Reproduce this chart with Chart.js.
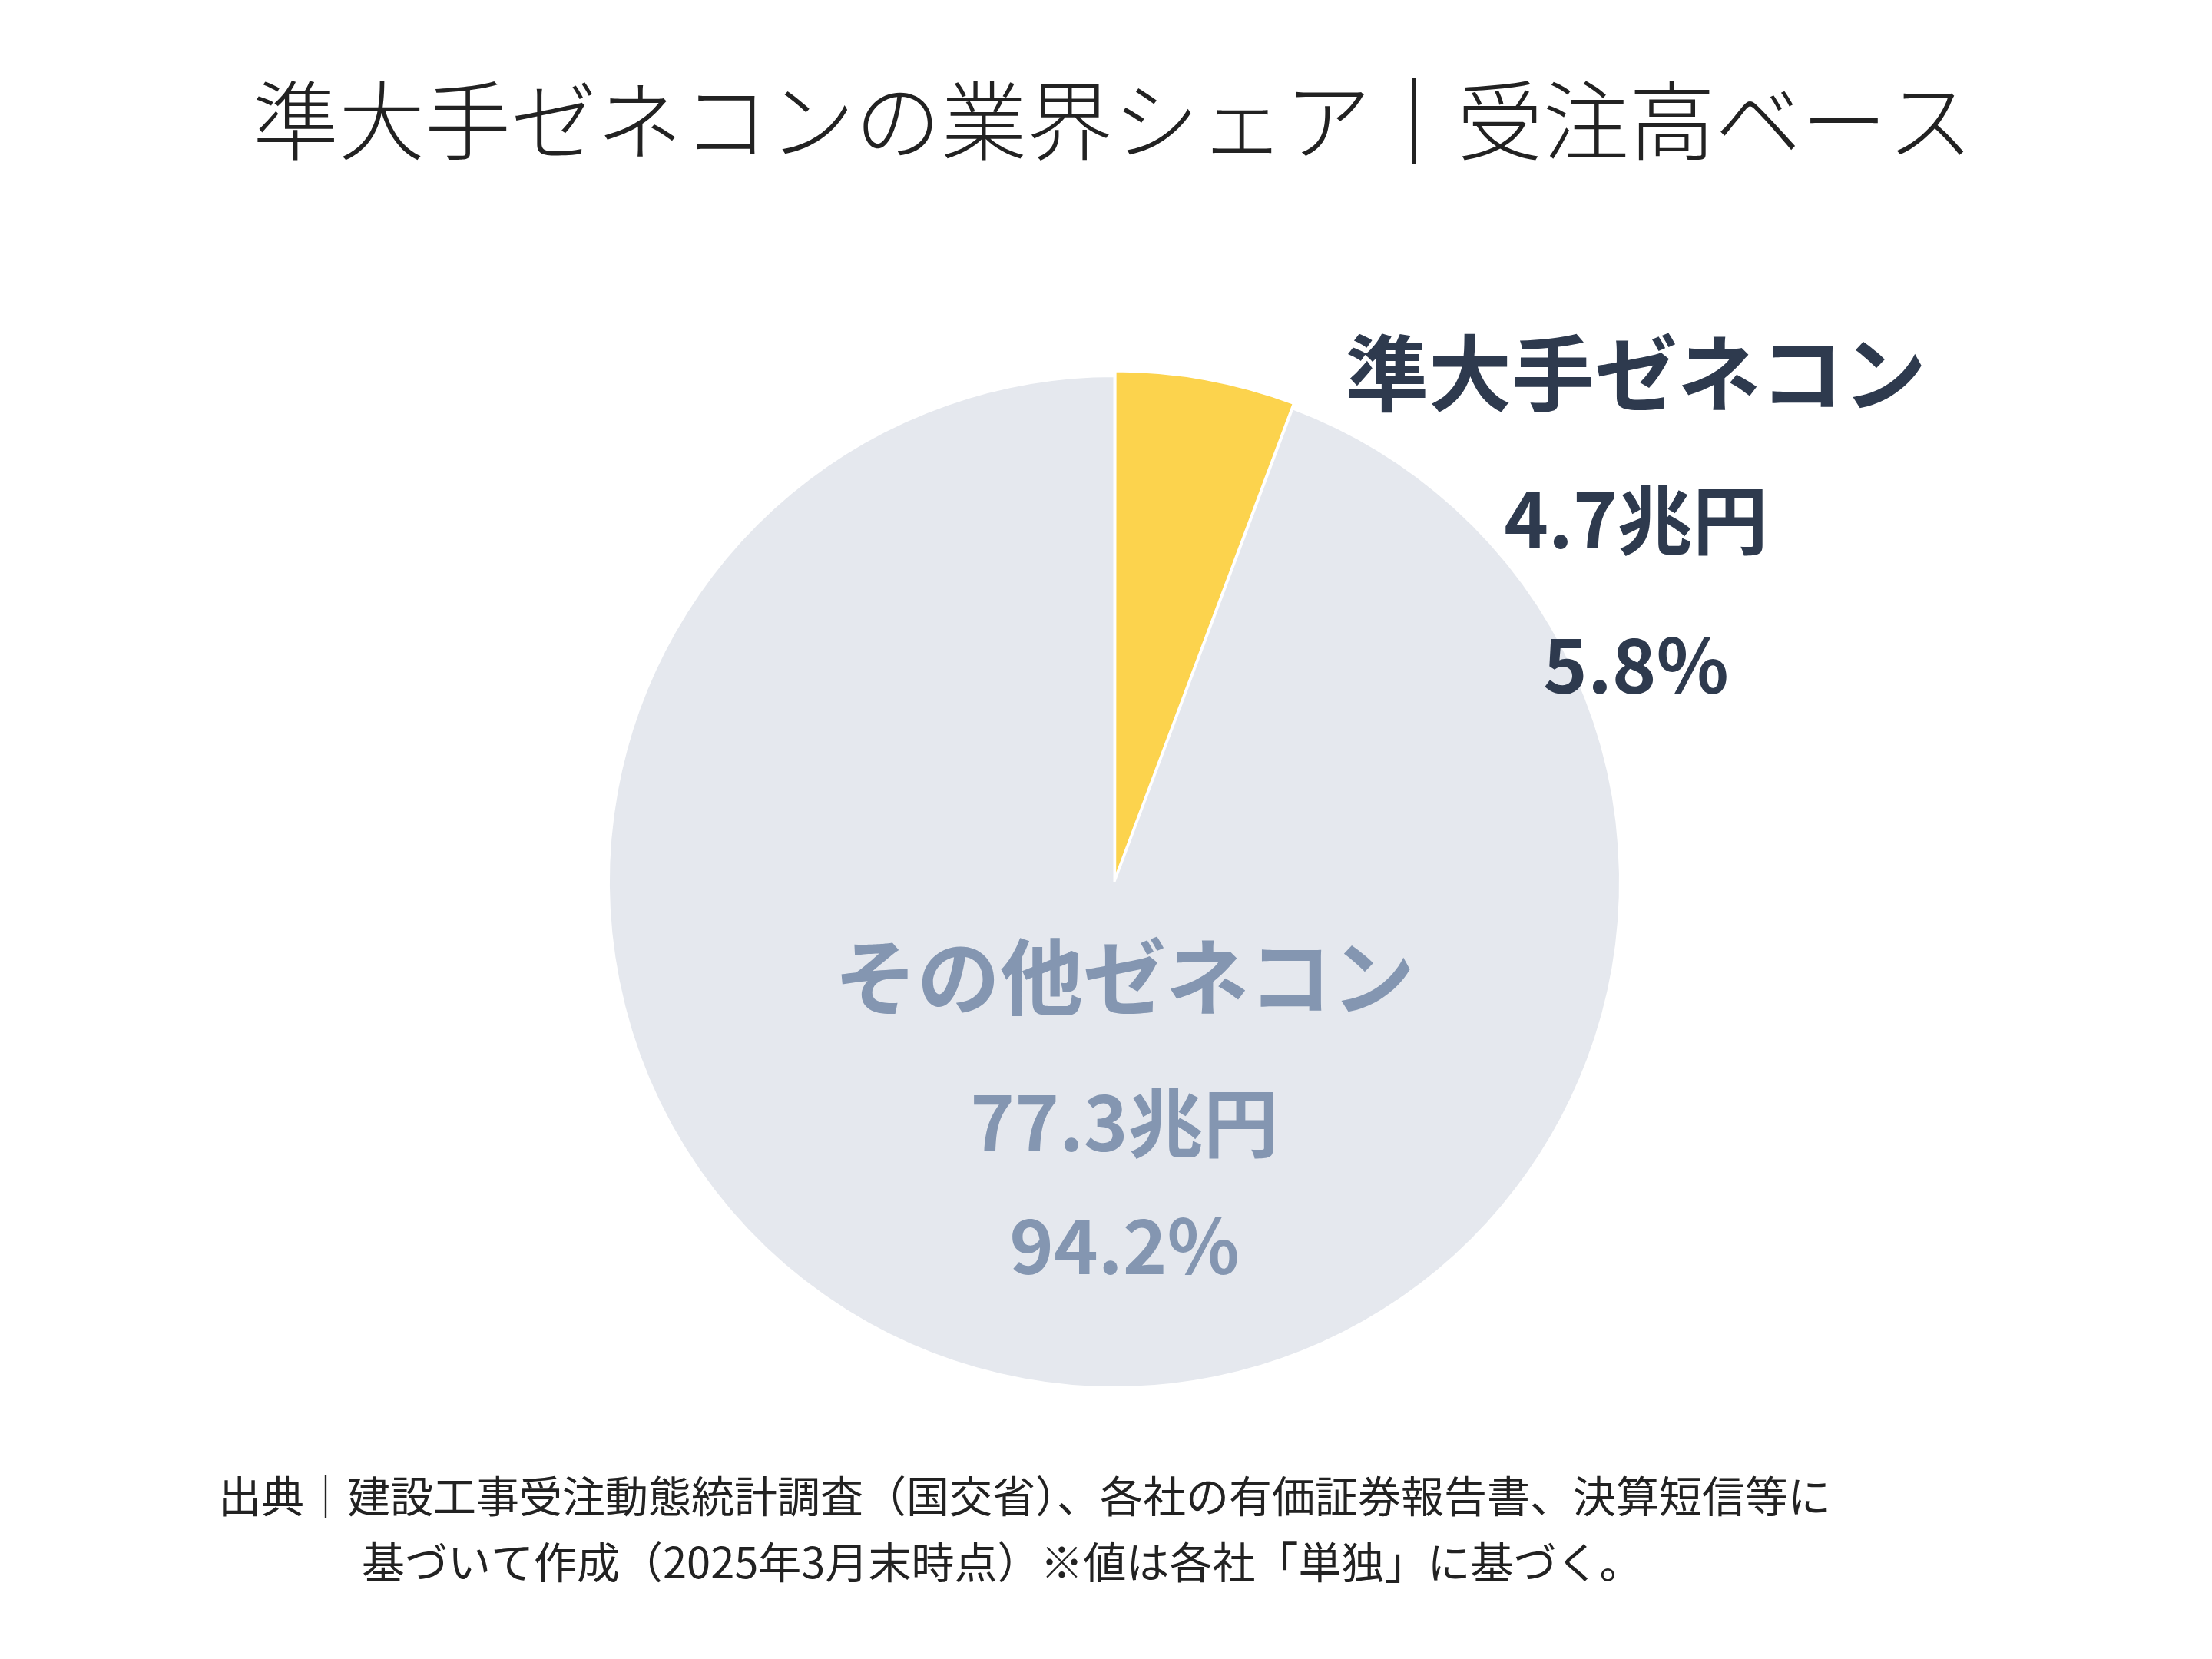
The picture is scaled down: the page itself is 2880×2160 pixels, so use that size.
<!DOCTYPE html>
<html>
<head>
<meta charset="utf-8">
<script src="https://cdn.jsdelivr.net/npm/chart.js@4"></script>
<style>
  html, body { margin: 0; padding: 0; background: #fff; }
</style>
</head>
<body>
<canvas id="pie" width="2880" height="2160"></canvas>
<script>
// dati del grafico
var categorie = ['準大手ゼネコン', 'その他ゼネコン'];
var valori = [4.7, 77.3];          // 兆円
var percentuali = ['5.8%', '94.2%'];
var colori = ['#fcd34d', '#e5e8ee'];
var coloriTesto = ['#2e3a4e', '#8496b1'];

var titolo = '準大手ゼネコンの業界シェア｜受注高ベース';
var fonte1 = '出典｜建設工事受注動態統計調査（国交省）、各社の有価証券報告書、決算短信等に';
var fonte2 = '基づいて作成（2025年3月末時点）※値は各社「単独」に基づく。';

var FONT = '"Noto Sans CJK JP", "Noto Sans", sans-serif';

// scritte (titolo, etichette, fonte)
var testi = {
    id: 'testi',
    afterDraw: function (chart) {
        var c = chart.ctx;
        c.save();
        c.textAlign = 'center';
        c.textBaseline = 'middle';
        c.fillStyle = '#222';
        c.font = '300 112px ' + FONT;
        c.fillText(titolo, 1449, 157);

        // etichette delle fette
        var pos = [[2130, 486, 677, 866], [1464, 1272, 1462, 1622]];
        for (var i = 0; i < categorie.length; i++) {
            c.fillStyle = coloriTesto[i];
            c.font = '700 108px ' + FONT;
            c.fillText(categorie[i], pos[i][0], pos[i][1]);
            c.font = '700 98px ' + FONT;
            c.fillText(valori[i] + '兆円', pos[i][0], pos[i][2]);
            c.fillText(percentuali[i], pos[i][0], pos[i][3]);
        }

        c.textAlign = 'left';
        c.fillStyle = '#222';
        c.font = '400 56px ' + FONT;
        c.fillText(fonte1, 284, 1948);
        c.fillText(fonte2, 471, 2034);
        c.restore();
    }
};

var ctx = document.getElementById('pie').getContext('2d');
var chart = new Chart(ctx, {
    type: 'pie',
    data: {
        labels: categorie,
        datasets: [{
            data: valori,
            backgroundColor: colori,
            borderColor: '#ffffff',
            borderWidth: 3,
            offset: [16, 0]
        }]
    },
    options: {
        responsive: false,
        devicePixelRatio: 1,
        animation: false,
        layout: { padding: { left: 782, right: 760, top: 480, bottom: 344 } },
        plugins: {
            legend: { display: false },
            tooltip: { enabled: false }
        }
    },
    plugins: [testi]
});
</script>
</body>
</html>
